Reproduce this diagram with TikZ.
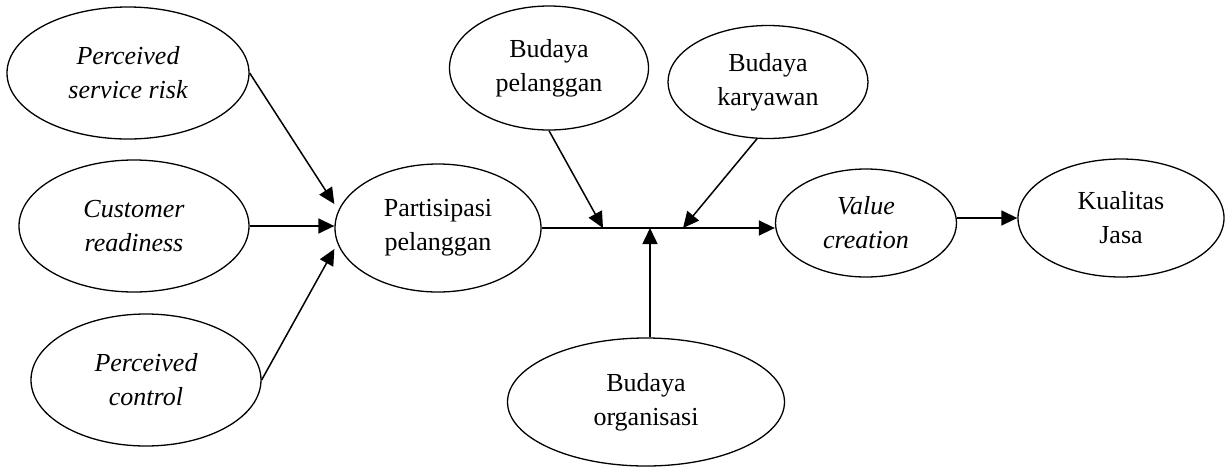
\documentclass[tikz,border=0pt]{standalone}
\usepackage{fontspec}
\setmainfont{Liberation Serif}
\usetikzlibrary{shapes.geometric,arrows.meta,calc}
\begin{document}
\begin{tikzpicture}[x=1pt,y=-1pt,
  ell/.style={draw, ellipse, line width=1.3pt, inner sep=0pt, align=center,
              font=\fontsize{26}{34}\selectfont},
  ital/.style={ell, font=\fontsize{26}{34}\selectfont\itshape},
  arr/.style={line width=1.5pt, -{Triangle[length=16pt,width=15pt]}},
]
\useasboundingbox (0,0) rectangle (1227,467);
\node[ital, minimum width=242pt, minimum height=132pt] (psr) at (128,73) {Perceived\\service risk};
\node[ital, minimum width=230pt, minimum height=132pt] (cr)  at (134,226) {Customer\\readiness};
\node[ital, minimum width=230pt, minimum height=132pt] (pc)  at (146,380) {Perceived\\control};
\node[ell, minimum width=206pt, minimum height=128pt] (pp)  at (438,228) {Partisipasi\\pelanggan};
\node[ell, minimum width=199pt, minimum height=124pt] (bp)  at (549,68) {Budaya\\pelanggan};
\node[ell, minimum width=200pt, minimum height=113pt] (bk)  at (768,82) {Budaya\\karyawan};
\node[ell, minimum width=277pt, minimum height=128pt] (bo)  at (646,402) {Budaya\\organisasi};
\node[ital, minimum width=181pt, minimum height=108pt] (vc)  at (866,223) {Value\\creation};
\node[ell, minimum width=206pt, minimum height=118pt] (kj)  at (1121,218) {Kualitas\\Jasa};

\coordinate (j1) at (603,228);
\coordinate (j2) at (650,228);
\coordinate (j3) at (683,228);

\draw[arr] (psr.east) -- ($(pp.west)+(0,-24)$);
\draw[arr] (cr.east) -- (cr.east -| pp.west);
\draw[arr] (pc.east) -- ($(pp.west)+(0,21)$);
\draw[arr] (pp.east) -- (pp.east -| vc.west);
\draw[arr] (bp.south) -- (j1);
\draw[arr] (bk.259) -- (j3);
\draw[arr] (j2 |- bo.north) -- (j2);
\draw[arr] (vc.east |- kj.west) -- (kj.west);
\end{tikzpicture}
\end{document}
